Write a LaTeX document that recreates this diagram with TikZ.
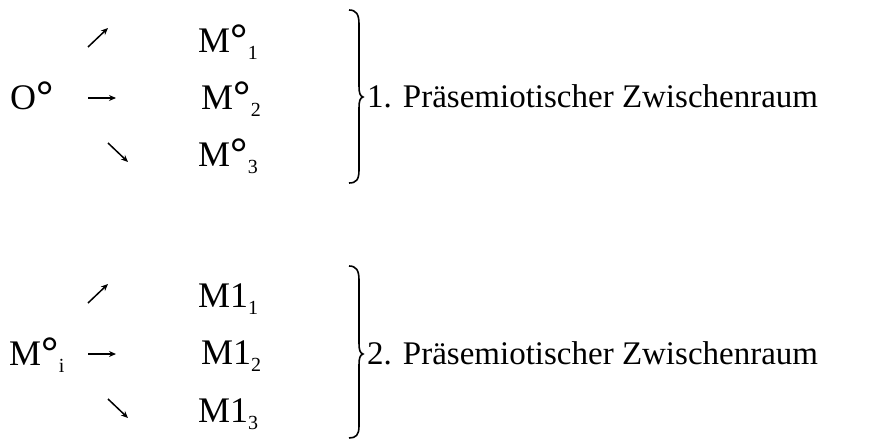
\documentclass[tikz,border=0pt]{standalone}
\usepackage{fontspec}
\usepackage{graphicx}
\setmainfont{Liberation Serif}
\usetikzlibrary{arrows.meta}
\newcommand\degsym{\raisebox{-1pt}{\scalebox{1.2}{\textbf{°}}}}
\newcommand\lowsub[2][0pt]{\kern#1\raisebox{-7pt}{\fontsize{20}{22}\selectfont #2}}
\tikzset{
  big/.style={anchor=base west,inner sep=0pt,font=\fontsize{36}{40}\selectfont},
  lab/.style={anchor=base west,inner sep=0pt,font=\fontsize{33}{40}\selectfont},
  arr/.style={line width=1.5pt,-{Stealth[length=7pt,width=6pt]}},
  brc/.style={line width=1.6pt}
}
\begin{document}
\begin{tikzpicture}[x=1pt,y=-1pt]
\useasboundingbox (0,0) rectangle (885,439);
% ---- top group
\node[big] (o) at (10,109) {O\degsym};
\node[big] (m1) at (198,52) {M\degsym\lowsub[0.5pt]{1}};
\node[big] (m2) at (201,109) {M\degsym\lowsub[0.5pt]{2}};
\node[big] (m3) at (198,166) {M\degsym\lowsub[0.5pt]{3}};
\coordinate (a1s) at (88,47); \coordinate (a1e) at (108,28);
\coordinate (a2s) at (88,98); \coordinate (a2e) at (116,98);
\coordinate (a3s) at (108,143); \coordinate (a3e) at (128,162);
\draw[arr] (a1s) -- (a1e);
\draw[arr] (a2s) -- (a2e);
\draw[arr] (a3s) -- (a3e);
\draw[brc] (349,10) .. controls (356,10) and (359,14) .. (359,24) -- (359,86)
  .. controls (359,93) and (360,96) .. (363,97) .. controls (360,98) and (359,101) .. (359,108)
  -- (359,170) .. controls (359,180) and (356,183) .. (349,183);
\node[lab] (t1) at (367,107) {1. Präsemiotischer Zwischenraum};
% ---- bottom group
\node[big] (mi) at (9,365) {M\degsym\lowsub[0.5pt]{i}};
\node[big] (n1) at (198,307) {M1\lowsub{1}};
\node[big] (n2) at (201,364) {M1\lowsub{2}};
\node[big] (n3) at (198,422) {M1\lowsub{3}};
\coordinate (b1s) at (88,303); \coordinate (b1e) at (108,284);
\coordinate (b2s) at (88,354); \coordinate (b2e) at (116,354);
\coordinate (b3s) at (108,399); \coordinate (b3e) at (128,418);
\draw[arr] (b1s) -- (b1e);
\draw[arr] (b2s) -- (b2e);
\draw[arr] (b3s) -- (b3e);
\draw[brc] (349,266) .. controls (356,266) and (359,270) .. (359,280) -- (359,343)
  .. controls (359,350) and (360,353) .. (363,354) .. controls (360,355) and (359,358) .. (359,365)
  -- (359,426) .. controls (359,435) and (356,438) .. (349,438);
\node[lab] (t2) at (367,364) {2. Präsemiotischer Zwischenraum};
\end{tikzpicture}
\end{document}
